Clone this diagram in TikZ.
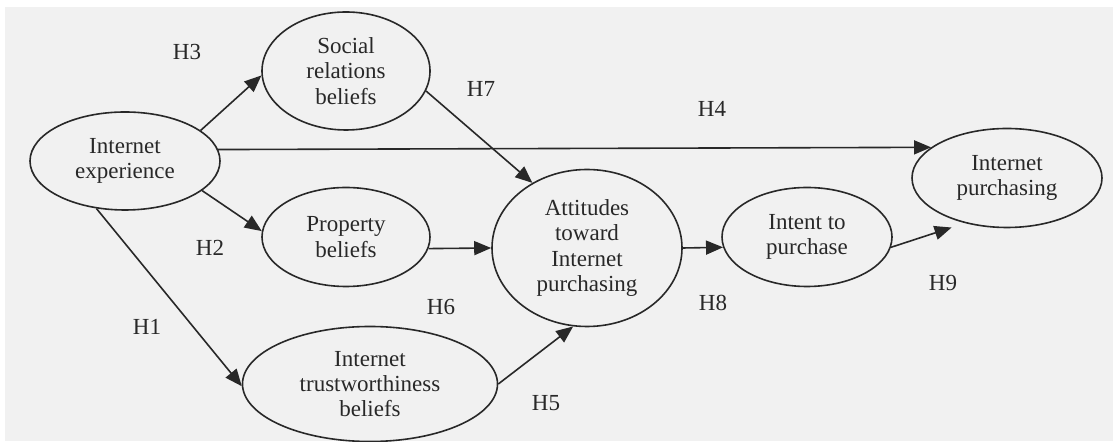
\documentclass[tikz,border=0pt]{standalone}
\usepackage{fontspec}
\setmainfont{Liberation Serif}
\usetikzlibrary{arrows.meta,shapes.geometric}
\definecolor{scanbg}{RGB}{241,241,241}
\definecolor{ink}{RGB}{40,40,40}

\begin{document}
\begin{tikzpicture}[x=0.5pt,y=-0.5pt,
    construct/.style={ellipse,draw=ink,line width=0.8pt,inner sep=0pt,align=center,text=ink,font=\fontsize{11.5}{12.7}\selectfont},
    hyp/.style={-{Triangle[length=8.5pt,width=7pt]},draw=ink,line width=0.8pt},
    hlabel/.style={text=ink,font=\fontsize{11.5}{12.7}\selectfont}]

    \useasboundingbox (0,0) rectangle (1113,442);
    \fill[scanbg] (5,7) rectangle (1113,441);

    \node[construct,minimum width=95pt,minimum height=49pt] (exper) at (125,161) {Internet\\experience};
    \node[construct,minimum width=84pt,minimum height=59pt] (social) at (346,71) {Social\\relations\\beliefs};
    \node[construct,minimum width=84pt,minimum height=49.5pt] (prop) at (346,237) {Property\\beliefs};
    \node[construct,minimum width=127.5pt,minimum height=57.5pt] (trust) at (370,384) {Internet\\trustworthiness\\beliefs};
    \node[construct,minimum width=95pt,minimum height=78.5pt] (att) at (587,248) {Attitudes\\toward\\Internet\\purchasing};
    \node[construct,minimum width=85pt,minimum height=49.5pt] (intent) at (807,237) {Intent to\\purchase};
    \node[construct,minimum width=95pt,minimum height=49.5pt] (inpurch) at (1007,178) {Internet\\purchasing};

    \draw[hyp] (exper.22) -- (social.183);
    \draw[hyp] (exper.339) -- (prop.176);
    \draw[hyp] (exper.239) -- (trust.181);
    \draw[hyp] (exper.7) -- (inpurch.158);
    \draw[hyp] (social.-14) -- (att.130);
    \draw[hyp] (prop.352) -- (att.west);
    \draw[hyp] (trust.east) -- (att.260);
    \draw[hyp] (att.east) -- (intent.187.5);
    \draw[hyp,shorten >=7pt] (intent.353) -- (inpurch.227);

    \node[hlabel] (h3) at (187,52) {H3};
    \node[hlabel] (h2) at (210,248) {H2};
    \node[hlabel] (h1) at (147,327) {H1};
    \node[hlabel] (h7) at (481,89) {H7};
    \node[hlabel] (h4) at (712,109) {H4};
    \node[hlabel] (h6) at (441,307) {H6};
    \node[hlabel] (h5) at (546,403) {H5};
    \node[hlabel] (h8) at (713,303) {H8};
    \node[hlabel] (h9) at (943,283) {H9};

\end{tikzpicture}
\end{document}
